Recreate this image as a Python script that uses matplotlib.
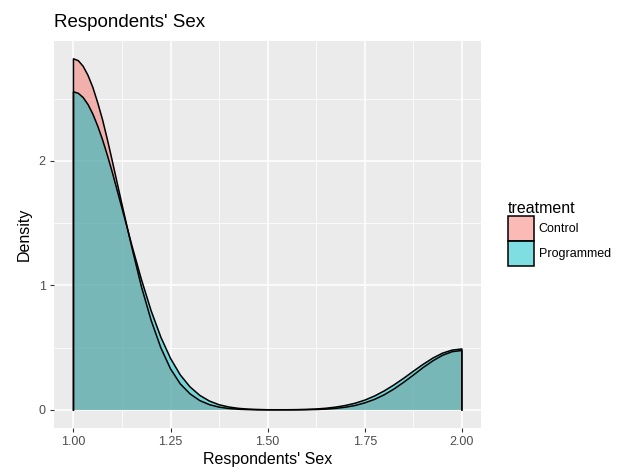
import numpy as np
import matplotlib
matplotlib.use("Agg")
import matplotlib.pyplot as plt
from matplotlib.patches import Patch
from matplotlib.colors import to_rgba

plt.rcParams['font.family'] = ['Liberation Sans', 'DejaVu Sans']

# density values (finer near the peak)
sex = [1.000, 1.0125, 1.025, 1.0375, 1.050, 1.0625, 1.075, 1.0875, 1.100,
       1.125, 1.150, 1.175, 1.200, 1.225,
       1.250, 1.275, 1.300, 1.325, 1.350, 1.375, 1.400, 1.425, 1.450, 1.475,
       1.500, 1.525, 1.550, 1.575, 1.600, 1.625, 1.650, 1.675, 1.700, 1.725,
       1.750, 1.775, 1.800, 1.825, 1.850, 1.875, 1.900, 1.925, 1.950, 1.975,
       2.000]
control = [2.82, 2.805, 2.76, 2.687, 2.59, 2.467, 2.33, 2.17, 2.00,
           1.65, 1.31, 0.99, 0.72, 0.50,
           0.33, 0.21, 0.13, 0.076, 0.043, 0.023, 0.012, 0.006, 0.003, 0.001,
           0.001, 0.001, 0.001, 0.001, 0.002, 0.004, 0.007, 0.013, 0.022, 0.036,
           0.057, 0.085, 0.122, 0.168, 0.222, 0.280, 0.340, 0.394, 0.439, 0.468,
           0.478]
programmed = [2.555, 2.543, 2.509, 2.453, 2.376, 2.280, 2.169, 2.044, 1.909,
              1.620, 1.326, 1.048, 0.797, 0.585,
              0.414, 0.282, 0.186, 0.118, 0.072, 0.042, 0.024, 0.013, 0.007, 0.004,
              0.002, 0.002, 0.002, 0.003, 0.005, 0.008, 0.014, 0.023, 0.036, 0.054,
              0.079, 0.112, 0.153, 0.201, 0.254, 0.311, 0.366, 0.416, 0.456, 0.481,
              0.490]
groups = ['Control', 'Programmed']
colors = ['#F8766D', '#00BFC4']

fig = plt.figure(figsize=(6.21, 4.74), dpi=100)
ax = fig.add_axes([0.087, 0.098, 0.688, 0.815])
ax.set_facecolor('#EBEBEB')

for name, dens, col in zip(groups, [control, programmed], colors):
    xs = np.r_[sex[0], sex, sex[-1]]
    ys = np.r_[0, dens, 0]
    ax.fill(xs, ys, facecolor=col, alpha=0.5, edgecolor='none', zorder=3)
    ax.plot(xs, ys, color='black', lw=1.1, zorder=4)

ax.set_xlim(0.95, 2.05)
ax.set_ylim(-0.141, 2.961)
ax.set_xticks([1.0, 1.25, 1.5, 1.75, 2.0])
ax.set_xticklabels(['1.00', '1.25', '1.50', '1.75', '2.00'])
ax.set_yticks([0, 1, 2])
ax.set_xticks([1.125, 1.375, 1.625, 1.875], minor=True)
ax.set_yticks([0.5, 1.5, 2.5], minor=True)
ax.grid(which='major', color='white', lw=1.1, zorder=1)
ax.grid(which='minor', color='white', lw=0.55, zorder=1)
ax.tick_params(which='major', length=3, color='#333333', labelcolor='#4D4D4D',
               labelsize=9, pad=3)
ax.tick_params(which='minor', length=0)
for s in ax.spines.values():
    s.set_visible(False)

ax.set_xlabel("Respondents' Sex", fontsize=11.5, labelpad=3)
ax.set_ylabel('Density', fontsize=11.5, labelpad=5)
ax.set_title("Respondents' Sex", fontsize=13.5, loc='left', pad=10)

handles = [Patch(facecolor=to_rgba(c, 0.5), edgecolor='black', lw=1.1) for c in colors]
leg = fig.legend(handles, groups, title='treatment', loc='upper left',
                 bbox_to_anchor=(0.8, 0.60), frameon=False, fontsize=9,
                 title_fontsize=11.5, handlelength=2.05, handleheight=2.7,
                 handletextpad=0.4, labelspacing=0.0)
leg._legend_box.align = 'left'

fig.savefig('out.png', dpi=100)
